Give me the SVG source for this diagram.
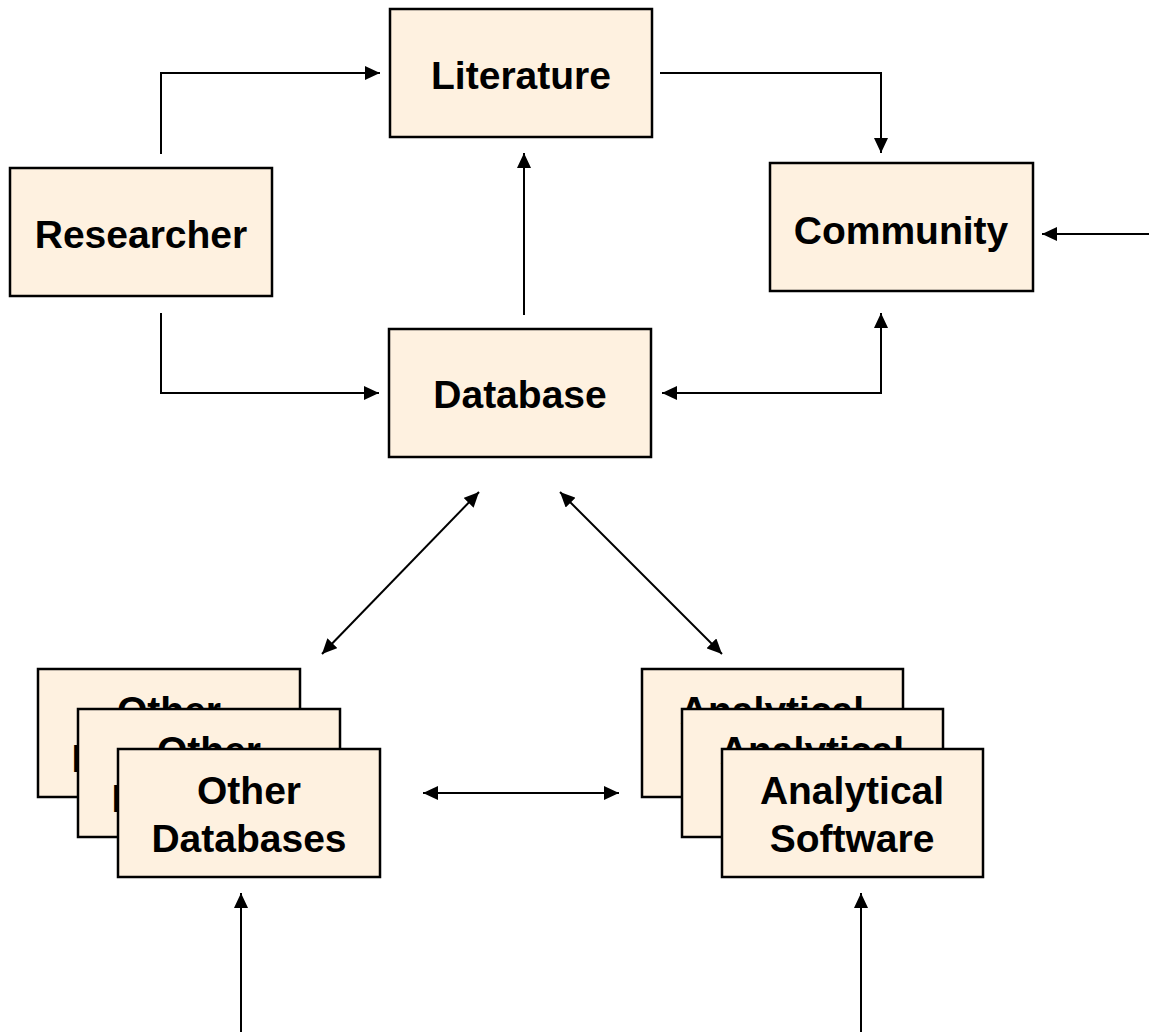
<svg xmlns="http://www.w3.org/2000/svg" width="1149" height="1032" viewBox="0 0 1149 1032">
<style>
.box{fill:#FEF1E0;stroke:#000;stroke-width:2.5}
.lbl{font-family:"Liberation Sans",Arial,sans-serif;font-weight:bold;font-size:39px;fill:#000;text-anchor:middle}
.c{fill:none;stroke:#000;stroke-width:2}
</style>
<defs>
<marker id="ah" viewBox="0 0 15 14" refX="15" refY="7" markerWidth="15" markerHeight="14" markerUnits="userSpaceOnUse" orient="auto-start-reverse">
<path d="M0,0 L15,7 L0,14 z" fill="#000"/>
</marker>
</defs>
<rect width="1149" height="1032" fill="#fff"/>
<g id="connectors">
<path class="c" d="M161,154 V73 H380" marker-end="url(#ah)"/>
<path class="c" d="M660,73 H881 V153" marker-end="url(#ah)"/>
<path class="c" d="M524,315 V153" marker-end="url(#ah)"/>
<path class="c" d="M1149,234 H1042" marker-end="url(#ah)"/>
<path class="c" d="M161,313 V393 H379" marker-end="url(#ah)"/>
<path class="c" d="M662,393 H881 V313" marker-start="url(#ah)" marker-end="url(#ah)"/>
<path class="c" d="M479,492 L322,654" marker-start="url(#ah)" marker-end="url(#ah)"/>
<path class="c" d="M560,492 L722,654" marker-start="url(#ah)" marker-end="url(#ah)"/>
<path class="c" d="M423,793 H619" marker-start="url(#ah)" marker-end="url(#ah)"/>
<path class="c" d="M241,1032 V893" marker-end="url(#ah)"/>
<path class="c" d="M861,1032 V893" marker-end="url(#ah)"/>
</g>
<g id="researcher">
<rect class="box" x="10" y="168" width="262" height="128"/>
<text class="lbl" x="141" y="248">Researcher</text>
</g>
<g id="literature">
<rect class="box" x="390" y="9" width="262" height="128"/>
<text class="lbl" x="521" y="89">Literature</text>
</g>
<g id="community">
<rect class="box" x="770" y="163" width="263" height="128"/>
<text class="lbl" x="901" y="244">Community</text>
</g>
<g id="database">
<rect class="box" x="389" y="329" width="262" height="128"/>
<text class="lbl" x="520" y="408">Database</text>
</g>
<g id="other-databases-3">
<rect class="box" x="38" y="669" width="262" height="128"/>
<text class="lbl" x="169" y="724">Other</text>
<text class="lbl" x="169" y="772">Databases</text>
</g>
<g id="other-databases-2">
<rect class="box" x="78" y="709" width="262" height="128"/>
<text class="lbl" x="209" y="764">Other</text>
<text class="lbl" x="209" y="812">Databases</text>
</g>
<g id="other-databases-1">
<rect class="box" x="118" y="749" width="262" height="128"/>
<text class="lbl" x="249" y="804">Other</text>
<text class="lbl" x="249" y="852">Databases</text>
</g>
<g id="analytical-software-3">
<rect class="box" x="642" y="669" width="261" height="128"/>
<text class="lbl" x="772" y="724">Analytical</text>
<text class="lbl" x="772" y="772">Software</text>
</g>
<g id="analytical-software-2">
<rect class="box" x="682" y="709" width="261" height="128"/>
<text class="lbl" x="812" y="764">Analytical</text>
<text class="lbl" x="812" y="812">Software</text>
</g>
<g id="analytical-software-1">
<rect class="box" x="722" y="749" width="261" height="128"/>
<text class="lbl" x="852" y="804">Analytical</text>
<text class="lbl" x="852" y="852">Software</text>
</g>
</svg>
